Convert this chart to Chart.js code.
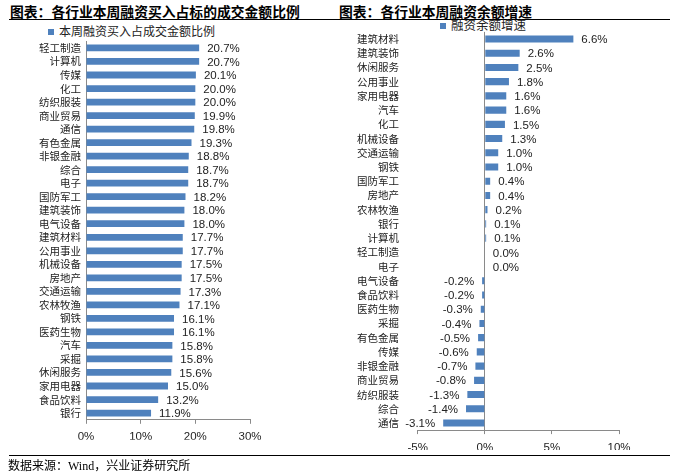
<!DOCTYPE html>
<html><head><meta charset="utf-8">
<script src="https://cdn.jsdelivr.net/npm/chart.js@4/dist/chart.umd.min.js"></script>
<style>
html,body{margin:0;padding:0;background:#fff;}
body{width:674px;height:473px;position:relative;overflow:hidden;font-family:"Noto Sans CJK SC",sans-serif;}
.t{position:absolute;font-weight:700;font-size:13.8px;color:#000;white-space:nowrap;line-height:16px;}
.ln{position:absolute;height:1.3px;background:#000;}
.lg{position:absolute;font-size:12px;color:#222;white-space:nowrap;line-height:14px;}
.lg i{display:inline-block;width:6px;height:6px;background:#4F81BD;margin-right:5px;vertical-align:1px;}
canvas{position:absolute;top:0;}
.src{position:absolute;left:8px;top:456px;font-size:12px;font-family:"Liberation Serif","Noto Sans CJK SC",serif;color:#000;white-space:nowrap;}
</style></head>
<body>
<div class="t" style="left:10px;top:3px;">图表：各行业本周融资买入占标的成交金额比例</div>
<div class="t" style="left:339px;top:3px;">图表：各行业本周融资余额增速</div>
<div class="ln" style="left:9px;top:19px;width:661px;"></div>
<div class="lg" style="left:48px;top:24px;"><i></i>本周融资买入占成交金额比例</div>
<div class="lg" style="left:440px;top:18px;font-size:12.5px;"><i></i>融资余额增速</div>
<canvas id="c1" width="300" height="473" style="left:0;"></canvas>
<canvas id="c2" width="374" height="473" style="left:300px;"></canvas>
<div class="ln" style="left:9px;top:455px;width:661px;"></div>
<div class="src">数据来源：Wind，兴业证券研究所</div>
<script>
const leftCategories = ['轻工制造','计算机','传媒','化工','纺织服装','商业贸易','通信','有色金属','非银金融','综合','电子','国防军工','建筑装饰','电气设备','建筑材料','公用事业','机械设备','房地产','交通运输','农林牧渔','钢铁','医药生物','汽车','采掘','休闲服务','家用电器','食品饮料','银行'];
const leftValues = [20.7,20.7,20.1,20.0,20.0,19.9,19.8,19.3,18.8,18.7,18.7,18.2,18.0,18.0,17.7,17.7,17.5,17.5,17.3,17.1,16.1,16.1,15.8,15.8,15.6,15.0,13.2,11.9];
const leftTicks = [0,10,20,30];

const rightCategories = ['建筑材料','建筑装饰','休闲服务','公用事业','家用电器','汽车','化工','机械设备','交通运输','钢铁','国防军工','房地产','农林牧渔','银行','计算机','轻工制造','电子','电气设备','食品饮料','医药生物','采掘','有色金属','传媒','非银金融','商业贸易','纺织服装','综合','通信'];
const rightValues = [6.6,2.6,2.5,1.8,1.6,1.6,1.5,1.3,1.0,1.0,0.4,0.4,0.2,0.1,0.1,0.0,0.0,-0.2,-0.2,-0.3,-0.4,-0.5,-0.6,-0.7,-0.8,-1.3,-1.4,-3.1];
const rightTicks = [-5,0,5,10];

const BAR = '#4F81BD';
const AXIS = '#8a8a8a';
const TXT = '#222';
Chart.defaults.font.family = '"Noto Sans CJK SC", sans-serif';

const valueLabels = {
  id: 'valueLabels',
  afterDatasetsDraw(chart) {
    const ctx = chart.ctx;
    const meta = chart.getDatasetMeta(0);
    const data = chart.data.datasets[0].data;
    const base = chart.scales.x.getPixelForValue(0);
    ctx.save();
    ctx.font = '11.5px "Liberation Sans", Arial, sans-serif';
    ctx.fillStyle = TXT;
    ctx.textBaseline = 'middle';
    meta.data.forEach((bar, i) => {
      const v = data[i];
      const s = v.toFixed(1) + '%';
      if (v < 0) { ctx.textAlign = 'right'; ctx.fillText(s, bar.x - 8, bar.y + 1); }
      else { ctx.textAlign = 'left'; ctx.fillText(s, Math.max(bar.x, base) + 8, bar.y + 1); }
    });
    ctx.restore();
  }
};

const tickFont = {family: '"Liberation Sans", Arial, sans-serif', size: 11.5};
const catFont = {family: '"Noto Sans CJK SC", sans-serif', size: 10.5};

new Chart(document.getElementById('c1'), {
  type: 'bar',
  data: { labels: leftCategories, datasets: [{ data: leftValues, backgroundColor: BAR, barPercentage: 0.5, categoryPercentage: 1 }] },
  options: {
    indexAxis: 'y', responsive: false, animation: false,
    layout: { padding: { left: 0, right: 50, top: 41.2, bottom: 33.2 } },
    plugins: { legend: { display: false }, tooltip: { enabled: false } },
    scales: {
      x: {
        min: 0, max: 30,
        afterBuildTicks(s) { s.ticks = leftTicks.map(v => ({value: v})); },
        ticks: { callback: v => v + '%', font: tickFont, color: TXT, padding: 6, maxRotation: 0 },
        grid: { drawOnChartArea: false, tickLength: 4, tickColor: AXIS, color: AXIS },
        border: { color: AXIS },
        afterFit(s) { s.height = 20; }
      },
      y: {
        ticks: { font: catFont, color: TXT, padding: 5, autoSkip: false },
        grid: { drawOnChartArea: false, drawTicks: false },
        border: { color: AXIS },
        afterFit(s) { s.width = 86; }
      }
    }
  },
  plugins: [valueLabels]
});

new Chart(document.getElementById('c2'), {
  type: 'bar',
  data: { labels: rightCategories, datasets: [{ data: rightValues, backgroundColor: BAR, barPercentage: 0.5, categoryPercentage: 1 }] },
  options: {
    indexAxis: 'y', responsive: false, animation: false,
    layout: { padding: { left: 0, right: 55, top: 31.9, bottom: 22.9 } },
    plugins: { legend: { display: false }, tooltip: { enabled: false } },
    scales: {
      x: {
        min: -5, max: 10,
        afterBuildTicks(s) { s.ticks = rightTicks.map(v => ({value: v})); },
        ticks: { callback: v => v + '%', font: tickFont, color: TXT, padding: 7, maxRotation: 0 },
        grid: { color: c => (c.tick && c.tick.value === 0) ? AXIS : 'rgba(0,0,0,0)', tickLength: 4, tickColor: AXIS },
        border: { color: AXIS },
        afterFit(s) { s.height = 20; }
      },
      y: {
        ticks: { font: catFont, color: TXT, padding: 10.7, autoSkip: false },
        grid: { display: false },
        border: { display: false },
        afterFit(s) { s.width = 117.7; }
      }
    }
  },
  plugins: [valueLabels]
});
</script>
</body></html>
